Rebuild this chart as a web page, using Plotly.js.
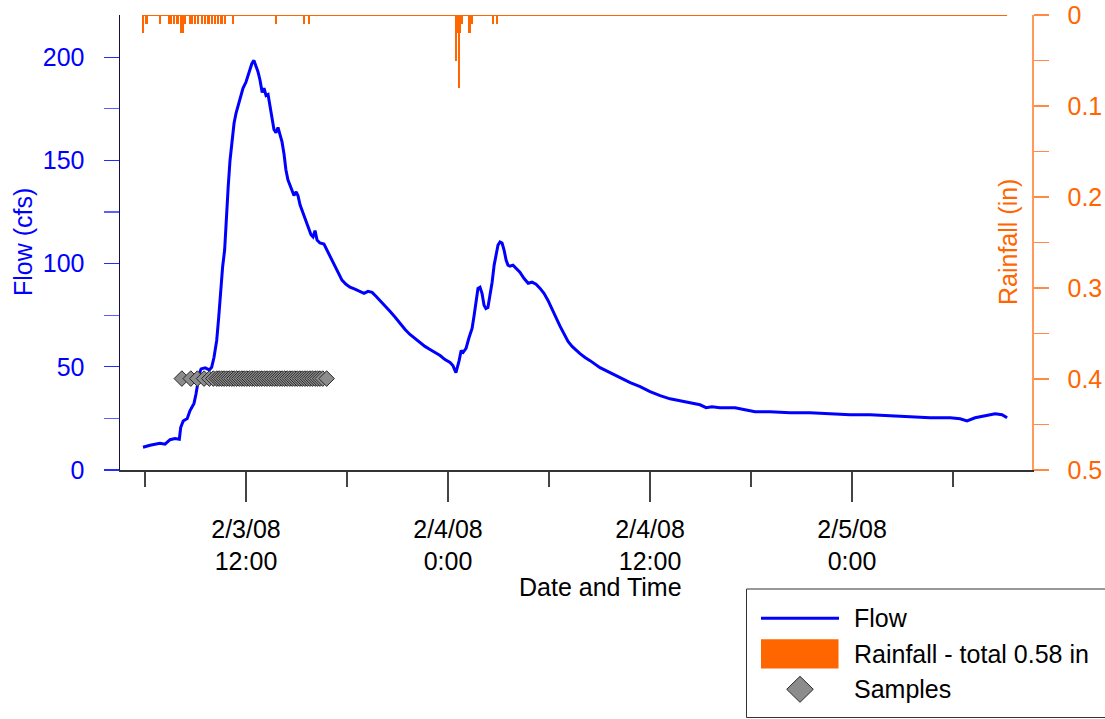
<!DOCTYPE html>
<html>
<head>
<meta charset="utf-8">
<script src="https://cdn.plot.ly/plotly-3.0.1.min.js"></script>
<style>
html,body{margin:0;padding:0;background:#fff;}
#chart{width:1105px;height:719px;}
</style>
</head>
<body>
<div id="chart"></div>
<script>
// Time values are hours after 2008-02-03 00:00
const flowHours = [
  5.88,6.30,6.89,7.19,7.49,7.78,8.04,8.12,8.27,8.51,
  8.67,8.91,9.03,9.14,9.23,9.33,9.57,9.82,9.96,10.10,
  10.26,10.38,10.49,10.61,10.73,10.81,10.94,11.05,11.17,11.29,
  11.41,11.65,11.82,12.00,12.18,12.35,12.47,12.59,12.71,12.83,
  12.96,13.07,13.19,13.31,13.43,13.55,13.66,13.78,13.90,14.02,
  14.14,14.26,14.37,14.49,14.61,14.73,14.85,14.98,15.09,15.21,
  15.39,15.57,15.74,15.86,15.98,16.10,16.22,16.39,16.63,16.81,
  16.99,17.23,17.47,17.70,17.94,18.18,18.47,18.77,19.01,19.25,
  19.49,19.72,19.96,20.26,20.55,20.86,21.15,21.45,21.74,22.04,
  22.33,22.63,22.93,23.23,23.53,23.82,24.12,24.29,24.47,24.66,
  24.78,24.90,25.07,25.25,25.43,25.55,25.66,25.78,25.90,26.02,
  26.14,26.25,26.37,26.49,26.62,26.74,26.86,26.97,27.09,27.21,
  27.33,27.45,27.56,27.68,27.86,28.04,28.27,28.51,28.76,28.99,
  29.23,29.47,29.70,29.94,30.18,30.41,30.66,30.89,31.13,31.37,
  31.60,31.84,32.14,32.44,33.03,33.62,34.21,34.82,35.41,36.00,
  36.60,37.19,37.78,38.38,38.97,39.33,39.68,40.15,41.05,41.64,
  42.24,43.13,44.32,45.50,46.70,47.88,49.07,50.26,51.44,52.64,
  53.83,54.42,54.83,55.31,55.91,56.50,56.91,57.21
];
const flowCfs = [
  11.0,12.0,13.0,12.5,14.7,15.2,14.9,20.6,23.8,25.0,
  28.7,32.3,36.8,41.7,46.6,49.0,49.5,48.5,49.8,54.6,
  62.8,74.1,87.1,98.4,106.6,120,137,150,160,168,
  173,180.5,185,188,193,197,198.5,196,193,189,
  183,185,181.5,182,175.7,170,165,163.5,166,162.5,
  159,153,145.5,140.6,137.7,134.8,133,134.8,132.9,128.5,
  124.6,121,117,114,113,116,111.4,110,109.5,106.6,
  103.6,99.3,95.9,92,90,88.6,87.6,86.6,85.6,86.6,
  86.1,84.2,82.2,79.3,76.9,74,71,68.1,65.7,63.7,
  61.8,59.9,58.4,56.9,55.5,53.5,52.1,50.6,47.2,53,
  57.9,57,58.9,64.2,68.6,74.9,82.2,88,88.6,85.6,
  79.8,78.3,78.8,84.7,91,99.3,104,109,110.5,110,
  106.6,101.7,99.3,98.8,99.3,97.8,95.9,92.9,90.5,91,
  90,88,85.6,82.2,78.3,74,69.6,65.7,62.3,59.9,
  58,56.4,54.5,53,49.6,47.2,44.8,42.3,40.4,38,
  36,34.5,33.6,32.6,31.6,30.2,30.7,30.2,30.2,29.2,
  28.2,28.2,27.7,27.7,27.3,26.8,26.8,26.3,25.8,25.3,
  25.3,24.8,23.8,25.3,26.3,27.3,26.8,25.3
];
const rainHours = [
  5.89,6.05,6.14,6.89,7.40,7.56,7.73,7.90,7.98,8.15,
  8.23,8.40,8.65,8.81,8.98,9.16,9.41,9.57,9.74,9.82,
  9.99,10.16,10.32,10.49,10.57,10.74,11.25,13.76,15.44,15.77,
  24.48,24.56,24.65,24.74,24.82,25.24,25.32,25.40,26.66,26.91
];
const rainInches = [
  0.02,0.01,0.01,0.01,0.01,0.01,0.01,0.01,0.01,0.02,
  0.02,0.01,0.01,0.01,0.01,0.01,0.01,0.01,0.01,0.01,
  0.01,0.01,0.01,0.01,0.01,0.01,0.01,0.01,0.01,0.01,
  0.05,0.02,0.08,0.02,0.01,0.02,0.02,0.01,0.01,0.01
];
const sampleHours = [
  8.19,8.72,9.11,9.51,9.82,10.06,10.26,10.40,10.55,10.70,
  10.85,11.00,11.15,11.30,11.45,11.60,11.75,11.90,12.05,12.20,
  12.35,12.50,12.65,12.80,12.95,13.10,13.25,13.40,13.55,13.70,
  13.85,14.00,14.15,14.30,14.45,14.60,14.75,14.90,15.05,15.20,
  15.35,15.50,15.65,15.80,15.95,16.10,16.25,16.40,16.56,16.79
];
const sampleLevel = 44.3;   // cfs level at which sample markers are drawn
const xTickFormat = '%-m/%-d/%y<br>%-H:%M';

const T0 = Date.UTC(2008, 1, 3);
const toDate = h => new Date(T0 + h * 3600e3).toISOString().replace('T', ' ').slice(0, 19);

const FONT = 'Liberation Sans, Arial, sans-serif';
const FS = 25;
const BLUE = '#0000ff';
const ORANGE = '#ff6600';

const flowX = flowHours.map(toDate);
const rainX = rainHours.map(toDate);
const sampleX = sampleHours.map(toDate);
const sampleY = sampleHours.map(() => sampleLevel);
const rainTotal = rainInches.reduce((a, b) => a + b, 0);

const traces = [
  {
    type: 'scatter', mode: 'lines', name: 'Rain baseline',
    x: [flowX[0], flowX[flowX.length - 1]], y: [0, 0], yaxis: 'y2',
    line: {color: ORANGE, width: 2}, hoverinfo: 'skip', showlegend: false
  },
  {
    type: 'bar', name: 'Rainfall - total ' + rainTotal.toFixed(2) + ' in',
    x: rainX, y: rainInches, yaxis: 'y2', width: 420000,
    marker: {color: ORANGE, line: {width: 0}}
  },
  {
    type: 'scatter', mode: 'lines', name: 'Flow',
    x: flowX, y: flowCfs, line: {color: BLUE, width: 3}
  },
  {
    type: 'scatter', mode: 'markers', name: 'Samples',
    x: sampleX, y: sampleY,
    marker: {symbol: 'diamond', size: 12, color: '#8c8c8c', line: {color: '#2a2a2a', width: 1}}
  }
];

// pixel helpers for paper coords (plot area: x 120..1032, y 15..470)
const PX = px => (px - 120) / 912;
const PY = py => (470 - py) / 455;

const legendShapes = [
  {type: 'rect', xref: 'paper', yref: 'paper', x0: PX(746.5), x1: PX(1112), y0: PY(717.5), y1: PY(589),
   line: {color: '#333333', width: 1}, fillcolor: 'rgba(0,0,0,0)'},
  {type: 'line', xref: 'paper', yref: 'paper', x0: PX(761), x1: PX(839), y0: PY(618.3), y1: PY(618.3),
   line: {color: BLUE, width: 3}},
  {type: 'rect', xref: 'paper', yref: 'paper', x0: PX(761), x1: PX(838.5), y0: PY(668.5), y1: PY(639.3),
   line: {width: 0}, fillcolor: ORANGE},
  {type: 'path', xref: 'paper', yref: 'paper',
   path: 'M' + PX(800) + ',' + PY(676.3) + ' L' + PX(813.3) + ',' + PY(689.3) + ' L' + PX(800) + ',' + PY(702.3) +
         ' L' + PX(786.7) + ',' + PY(689.3) + ' Z',
   fillcolor: '#8c8c8c', line: {color: '#2a2a2a', width: 1}}
];

const legendTexts = [
  {text: 'Flow', y: 618.3},
  {text: 'Rainfall - total ' + rainTotal.toFixed(2) + ' in', y: 654},
  {text: 'Samples', y: 689.3}
].map(d => ({
  text: d.text, xref: 'paper', yref: 'paper', x: PX(852), y: PY(d.y),
  xanchor: 'left', yanchor: 'middle', showarrow: false,
  font: {family: FONT, size: FS, color: '#000'}
}));

const layout = {
  width: 1105, height: 719,
  margin: {l: 120, r: 73, t: 15, b: 249, pad: 0},
  paper_bgcolor: '#ffffff', plot_bgcolor: '#ffffff',
  showlegend: false,
  font: {family: FONT, size: FS, color: '#000'},
  xaxis: {
    type: 'date',
    range: [toDate(4.515), toDate(58.69)],
    showgrid: false, zeroline: false,
    showline: true, linecolor: '#333333', linewidth: 1.5,
    ticks: 'outside', ticklen: 30, tickwidth: 1.2, tickcolor: '#444444',
    tickmode: 'linear', tick0: toDate(0), dtick: 12 * 3600e3,
    tickformat: xTickFormat,
    tickfont: {family: FONT, size: FS, color: '#000'},
    ticklabelstandoff: 6,
    minor: {ticks: 'outside', ticklen: 15, tickwidth: 1.2, tickcolor: '#444444', dtick: 6 * 3600e3, tick0: toDate(0), showgrid: false}
  },
  yaxis: {
    range: [0, 220.5],
    showgrid: false, zeroline: false,
    showline: true, linecolor: '#10104a', linewidth: 1.5,
    ticks: 'outside', ticklen: 15, tickwidth: 1.2, tickcolor: '#2a2aff',
    tickmode: 'linear', tick0: 0, dtick: 50,
    tickfont: {family: FONT, size: FS, color: BLUE},
    ticklabelstandoff: 14,
    minor: {ticks: 'outside', ticklen: 15, tickwidth: 1.2, tickcolor: '#5f5fff', dtick: 25, showgrid: false}
  },
  yaxis2: {
    overlaying: 'y', side: 'right',
    range: [0.5, 0],
    showgrid: false, zeroline: false,
    showline: true, linecolor: '#ff9a5c', linewidth: 1.5,
    ticks: 'outside', ticklen: 15, tickwidth: 1.2, tickcolor: '#ff8a45',
    tickmode: 'linear', tick0: 0, dtick: 0.1,
    tickfont: {family: FONT, size: FS, color: ORANGE},
    ticklabelstandoff: 14,
    minor: {ticks: 'outside', ticklen: 15, tickwidth: 1.2, tickcolor: '#ff8a45', dtick: 0.05, showgrid: false}
  },
  bargap: 0,
  shapes: legendShapes,
  annotations: [
    {text: 'Date and Time', xref: 'paper', yref: 'paper', x: PX(600), y: PY(587),
     xanchor: 'center', yanchor: 'middle', showarrow: false, font: {family: FONT, size: FS, color: '#000'}},
    {text: 'Flow (cfs)', xref: 'paper', yref: 'paper', x: PX(23), y: PY(242), textangle: -90,
     xanchor: 'center', yanchor: 'middle', showarrow: false, font: {family: FONT, size: FS, color: BLUE}},
    {text: 'Rainfall (in)', xref: 'paper', yref: 'paper', x: PX(1008), y: PY(242), textangle: -90,
     xanchor: 'center', yanchor: 'middle', showarrow: false, font: {family: FONT, size: FS, color: ORANGE}}
  ].concat(legendTexts)
};

Plotly.newPlot('chart', traces, layout, {displayModeBar: false, staticPlot: true});
</script>
</body>
</html>
